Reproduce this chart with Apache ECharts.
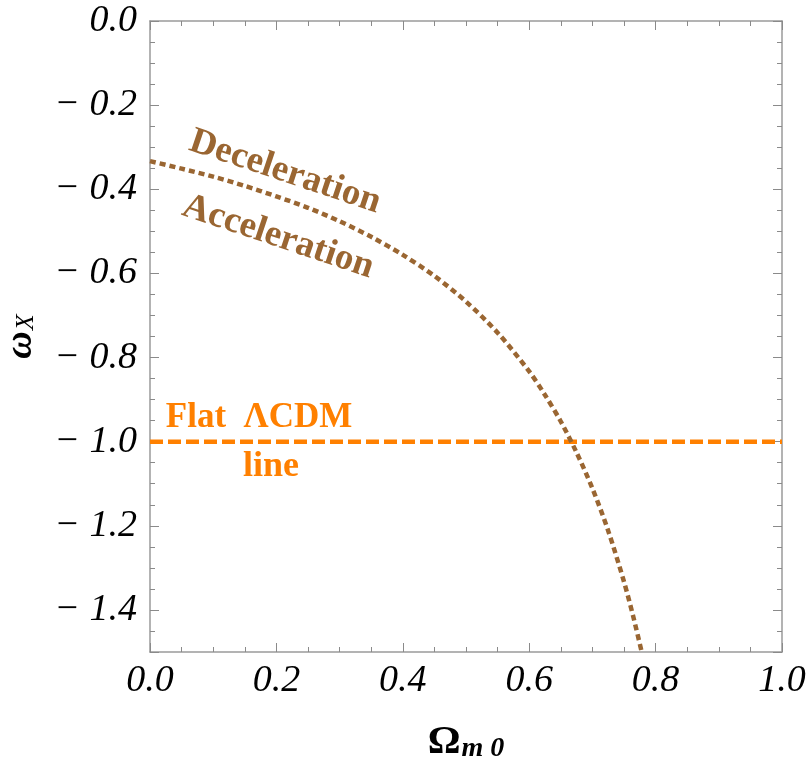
<!DOCTYPE html>
<html>
<head>
<meta charset="utf-8">
<script src="https://cdn.jsdelivr.net/npm/echarts@6/dist/echarts.min.js"></script>
<style>
  html, body { margin: 0; padding: 0; background: #fff; }
  #chart { width: 809px; height: 760px; }
</style>
</head>
<body>
<div id="chart"></div>
<script>
  // deceleration / acceleration boundary
  const boundaryOmega = [0, 0.05, 0.1, 0.15, 0.2, 0.25, 0.3, 0.35, 0.4, 0.45, 0.5, 0.55, 0.6, 0.625, 0.65, 0.675, 0.7, 0.725, 0.75, 0.765, 0.778]
  const boundaryW = [-0.333, -0.351, -0.370, -0.392, -0.417, -0.444, -0.476, -0.513, -0.556, -0.606, -0.667, -0.741, -0.833, -0.889, -0.952, -1.026, -1.111, -1.212, -1.333, -1.418, -1.5]

  // flat LCDM line
  const lcdmOmega = [0, 1]
  const lcdmW = [-1, -1]

  const xTicks = [0, 0.2, 0.4, 0.6, 0.8, 1.0]
  const xTickLabels = ['0.0', '0.2', '0.4', '0.6', '0.8', '1.0']
  const yTicks = [0, -0.2, -0.4, -0.6, -0.8, -1.0, -1.2, -1.4]
  const yTickLabels = ['0.0', '\u2212 0.2', '\u2212 0.4', '\u2212 0.6', '\u2212 0.8', '\u2212 1.0', '\u2212 1.2', '\u2212 1.4']

  const brown = '#9a6632'
  const orange = '#ff8000'
  const serif = '"Liberation Serif", "DejaVu Serif", serif'

  const pickLabel = (ticks, labels) => v => {
    const i = ticks.findIndex(t => Math.abs(t - v) < 1e-6)
    return i < 0 ? '' : labels[i]
  }

  const frameLine = { show: true, onZero: false, lineStyle: { color: '#9a9a9a', width: 1.5 } }
  const majorTick = { show: true, inside: true, length: 9, lineStyle: { color: '#8a8a8a', width: 1 } }
  const minorTick = { show: true, splitNumber: 4, length: 5, lineStyle: { color: '#8a8a8a', width: 1 } }

  const chart = echarts.init(document.getElementById('chart'))

  chart.setOption({
    animation: false,
    grid: { left: 150, top: 21, right: 27, bottom: 108, containLabel: false, outerBoundsMode: 'none' },
    xAxis: [
      {
        type: 'value', min: 0, max: 1, interval: 0.2, position: 'bottom',
        axisLine: frameLine, axisTick: majorTick, minorTick: minorTick,
        splitLine: { show: false },
        axisLabel: {
          formatter: pickLabel(xTicks, xTickLabels),
          fontFamily: serif, fontStyle: 'italic', fontSize: 38, color: '#000', margin: 10
        },
        name: '{o|\u03A9}{s|m 0}', nameLocation: 'middle', nameGap: 69,
        nameTextStyle: {
          rich: {
            o: { fontFamily: serif, fontWeight: 'bold', fontSize: 41, color: '#000' },
            s: { fontFamily: serif, fontWeight: 'bold', fontStyle: 'italic', fontSize: 28, color: '#000', padding: [14, 0, 0, 1] }
          }
        }
      },
      {
        type: 'value', min: 0, max: 1, interval: 0.2, position: 'top',
        axisLine: frameLine, axisTick: majorTick, minorTick: minorTick,
        splitLine: { show: false }, axisLabel: { show: false }
      }
    ],
    yAxis: [
      {
        type: 'value', min: -1.5, max: 0, minInterval: 0.2, maxInterval: 0.2, splitNumber: 7, position: 'left',
        axisLine: frameLine, axisTick: majorTick, minorTick: minorTick,
        splitLine: { show: false },
        axisLabel: {
          formatter: pickLabel(yTicks, yTickLabels),
          fontFamily: serif, fontStyle: 'italic', fontSize: 38, color: '#000', margin: 13
        },
        name: '{w|\u03C9}{s|X}', nameLocation: 'middle', nameGap: 110, nameRotate: 90,
        nameTextStyle: {
          rich: {
            w: { fontFamily: serif, fontWeight: 'bold', fontStyle: 'italic', fontSize: 38, color: '#000' },
            s: { fontFamily: serif, fontStyle: 'italic', fontSize: 26, color: '#000', padding: [10, 0, 0, 1] }
          }
        }
      },
      {
        type: 'value', min: -1.5, max: 0, minInterval: 0.2, maxInterval: 0.2, splitNumber: 7, position: 'right',
        axisLine: frameLine, axisTick: majorTick, minorTick: minorTick,
        splitLine: { show: false }, axisLabel: { show: false }
      }
    ],
    series: [
      {
        type: 'line', xAxisIndex: 0, yAxisIndex: 0, showSymbol: false, symbol: 'none',
        data: lcdmOmega.map((x, i) => [x, lcdmW[i]]),
        lineStyle: { color: orange, width: 4.5, type: [13, 5], cap: 'butt' }
      },
      {
        type: 'line', xAxisIndex: 0, yAxisIndex: 0, showSymbol: false, symbol: 'none', smooth: 0.3,
        data: boundaryOmega.map((x, i) => [x, boundaryW[i]]),
        lineStyle: { color: brown, width: 4.5, type: [6, 4], cap: 'butt' }
      }
    ],
    graphic: [
      {
        type: 'text', x: 285, y: 172, rotation: -18.5 * Math.PI / 180,
        style: { text: 'Deceleration', fill: brown, font: 'bold 37px ' + serif, align: 'center', verticalAlign: 'middle' }
      },
      {
        type: 'text', x: 278, y: 237, rotation: -18.5 * Math.PI / 180,
        style: { text: 'Acceleration', fill: brown, font: 'bold 37px ' + serif, align: 'center', verticalAlign: 'middle' }
      },
      {
        type: 'text', x: 259, y: 418,
        style: { text: 'Flat  \u039BCDM', fill: orange, font: 'bold 35px ' + serif, align: 'center', verticalAlign: 'middle' }
      },
      {
        type: 'text', x: 271, y: 467,
        style: { text: 'line', fill: orange, font: 'bold 36px ' + serif, align: 'center', verticalAlign: 'middle' }
      }
    ]
  })
</script>
</body>
</html>
